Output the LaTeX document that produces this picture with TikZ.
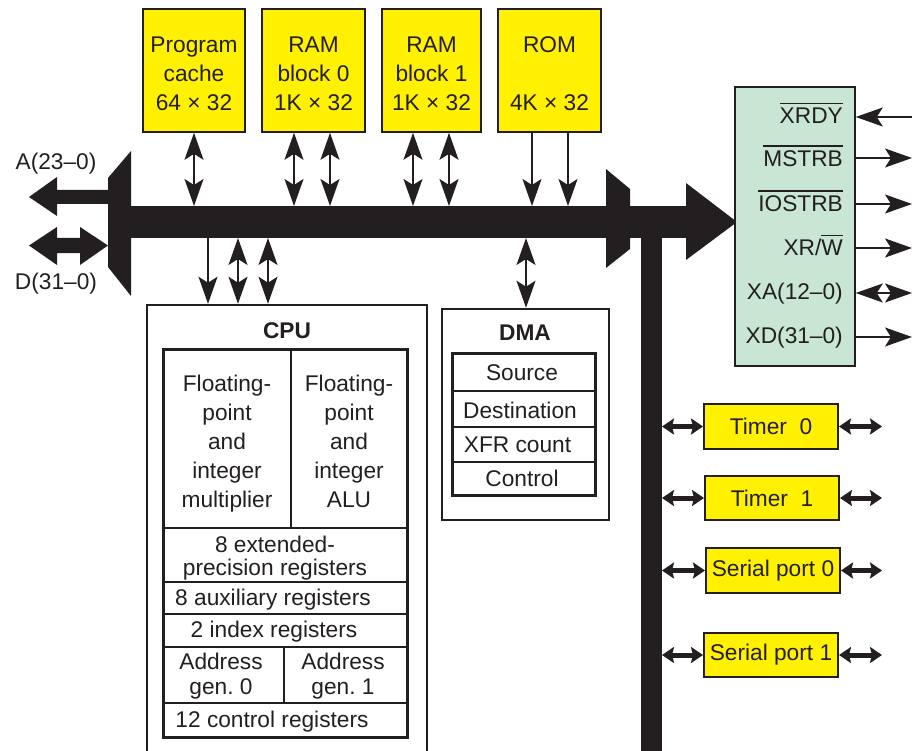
\documentclass[tikz,border=0pt]{standalone}
\usepackage{fontspec}
\setmainfont{Liberation Sans}
\usetikzlibrary{arrows.meta}
\definecolor{ink}{HTML}{231F20}
\definecolor{yel}{HTML}{FFF100}
\definecolor{mint}{HTML}{C8E6D3}
\newcommand{\ovbar}[1]{\leavevmode\vbox{\hrule height 1.6pt\kern 3.5pt\hbox{#1}}}
\frenchspacing
\begin{document}
\begin{tikzpicture}[x=1pt,y=-1pt,
  every node/.style={font=\fontsize{22.7}{29}\selectfont, text=ink, inner sep=0pt},
  ybox/.style={draw=ink, line width=1.6pt, fill=yel, align=center},
  pbox/.style={draw=ink, line width=2pt, fill=yel, align=center},
  bigtip/.tip={Stealth[length=27pt,width=19pt,inset=6pt]},
  ptip/.tip={Stealth[length=12pt,width=16pt,inset=2pt]},
  sig/.style={draw=ink, line width=1.5pt},
  per/.style={draw=ink, line width=5pt, ptip-ptip},
  thin/.style={draw=ink, line width=1.5pt},
  boldlbl/.style={font=\fontsize{22.7}{29}\selectfont\bfseries},
  busfill/.style={fill=ink, draw=none}]
\useasboundingbox (0,0) rectangle (912,751);

% ---------------- bus structure ----------------
\fill[busfill] (108,178) -- (131,151) -- (131,296) -- (108,267) -- cycle;
\fill[busfill] (131,206) rectangle (606,238);
\fill[busfill] (606,169) -- (630,189) -- (630,249) -- (606,268) -- cycle;
\fill[busfill] (630,206) rectangle (686,238);
\fill[busfill] (686,183) -- (737,222) -- (686,260) -- cycle;
\fill[busfill] (641,238) rectangle (662,751);
\coordinate (busT) at (0,206);
\coordinate (busB) at (0,238);
\coordinate (vb) at (662,0);

% A and D arrows
\fill[busfill] (108,190) -- (57,190) -- (57,177) -- (29,197) -- (57,216) -- (57,204) -- (108,204) -- cycle;
\fill[busfill] (57,238) -- (57,227) -- (29,245.5) -- (57,265) -- (57,253) -- (80,253) -- (80,265) -- (108,245.5) -- (80,227) -- (80,238) -- cycle;
\node (alab) at (56,164) {A(23–0)};
\node (dlab) at (56,284) {D(31–0)};

% ---------------- memory blocks ----------------
\node[ybox, minimum width=102pt, minimum height=123pt] (pc) at (194,70.5) {};
\node[ybox, minimum width=103pt, minimum height=123pt] (ram0) at (313.5,70.5) {};
\node[ybox, minimum width=99pt, minimum height=123pt] (ram1) at (431.5,70.5) {};
\node[ybox, minimum width=103pt, minimum height=123pt] (rom) at (549.5,70.5) {};
\node[align=center] (pct) at ([yshift=-3pt]pc.center) {Program\\cache\\64 × 32};
\node[align=center] (r0t) at ([yshift=-3pt]ram0.center) {RAM\\block 0\\1K × 32};
\node[align=center] (r1t) at ([yshift=-3pt]ram1.center) {RAM\\block 1\\1K × 32};
\node[align=center] (romt) at ([yshift=-3pt]rom.center) {ROM\\[29pt]4K × 32};

\draw[sig, bigtip-bigtip] (pc.south) -- (pc.south |- busT);
\draw[sig, bigtip-bigtip] ([xshift=-19.5pt]ram0.south) -- ([xshift=-19.5pt]ram0.south |- busT);
\draw[sig, bigtip-bigtip] ([xshift=16.5pt]ram0.south) -- ([xshift=16.5pt]ram0.south |- busT);
\draw[sig, bigtip-bigtip] ([xshift=-18.5pt]ram1.south) -- ([xshift=-18.5pt]ram1.south |- busT);
\draw[sig, bigtip-bigtip] ([xshift=17.5pt]ram1.south) -- ([xshift=17.5pt]ram1.south |- busT);
\draw[sig, -bigtip] ([xshift=-17.5pt]rom.south) -- ([xshift=-17.5pt]rom.south |- busT);
\draw[sig, -bigtip] ([xshift=18.5pt]rom.south) -- ([xshift=18.5pt]rom.south |- busT);

% ---------------- external interface panel ----------------
\node[draw=ink, line width=1.5pt, fill=mint, minimum width=120pt, minimum height=279pt] (xp) at (795,226.5) {};
\node[anchor=east] (s1) at (843,113) {\ovbar{XRDY}};
\node[anchor=east] (s2) at (843,156) {\ovbar{MSTRB}};
\node[anchor=east] (s3) at (843,201) {\ovbar{IOSTRB}};
\node[anchor=east] (s4) at (843,245) {XR/\ovbar{W}};
\node[anchor=east] (s5) at (843,294) {XA(12–0)};
\node[anchor=east] (s6) at (843,338) {XD(31–0)};
\draw[sig, -bigtip] (912,117) -- (xp.east |- 0,117);
\draw[sig, -bigtip] (xp.east |- 0,158) -- (912,158);
\draw[sig, -bigtip] (xp.east |- 0,204) -- (912,204);
\draw[sig, -bigtip] (xp.east |- 0,248) -- (912,248);
\draw[sig, bigtip-bigtip] (xp.east |- 0,293) -- (912,293);
\draw[sig, -bigtip] (xp.east |- 0,337) -- (912,337);

% ---------------- peripherals ----------------
\node[pbox, minimum width=134pt, minimum height=45pt] (t0) at (771,426.5) {Timer\ \ 0};
\node[pbox, minimum width=134pt, minimum height=44pt] (t1) at (772,498) {Timer\ \ 1};
\node[pbox, minimum width=134pt, minimum height=45pt] (sp0) at (773,570.5) {Serial port 0};
\node[pbox, minimum width=134pt, minimum height=44pt] (sp1) at (771,655) {Serial port 1};
\foreach \p in {t0,t1,sp0,sp1}{
  \draw[per] (vb |- \p.west) -- (\p.west);
  \draw[per] (\p.east) -- (882,0 |- \p.east);
}

% ---------------- CPU ----------------
\node[draw=ink, line width=2.5pt, minimum width=280pt, minimum height=450pt] (cpu) at (287,530) {};
\node[boldlbl] (cpulbl) at (287,331) {CPU};
\draw[sig, -bigtip] (208,0 |- busB) -- (208,0 |- cpu.north);
\draw[sig, bigtip-bigtip] (238,0 |- busB) -- (238,0 |- cpu.north);
\draw[sig, bigtip-bigtip] (268,0 |- busB) -- (268,0 |- cpu.north);

\draw[draw=ink, line width=3pt] (163,349) rectangle (407,737);
\draw[thin] (291,349) -- (291,528);
\draw[thin] (163,528) -- (407,528);
\draw[thin] (163,582) -- (407,582);
\draw[thin] (163,614) -- (407,614);
\draw[thin] (163,647) -- (407,647);
\draw[thin] (284,647) -- (284,703);
\draw[thin] (163,703) -- (407,703);

\node[align=center, anchor=north] (mul) at (227,374.4) {Floating-\\point\\and\\integer\\multiplier};
\node[align=center, anchor=north] (alu) at (349,374.4) {Floating-\\point\\and\\integer\\ALU};
\node[align=center, font=\fontsize{22.7}{23}\selectfont] (ext) at (275,558) {8 extended-\\precision registers};
\node (aux) at (273,599.5) {8 auxiliary registers};
\node (idx) at (274,631.5) {2 index registers};
\node[align=center, font=\fontsize{22.7}{25}\selectfont] (ag0) at (221,676.5) {Address\\gen. 0};
\node[align=center, font=\fontsize{22.7}{25}\selectfont] (ag1) at (343,676.5) {Address\\gen. 1};
\node (ctl) at (272,721.5) {12 control registers};

% ---------------- DMA ----------------
\node[draw=ink, line width=2.5pt, minimum width=167pt, minimum height=211pt] (dma) at (525.5,414.5) {};
\node[boldlbl] (dmalbl) at (525,333) {DMA};
\draw[sig, bigtip-bigtip] (526,0 |- busB) -- (526,0 |- dma.north);
\draw[draw=ink, line width=3pt] (452,353) rectangle (595,495);
\draw[thin] (452,391) -- (595,391);
\draw[thin] (452,427) -- (595,427);
\draw[thin] (452,462) -- (595,462);
\node (src) at (522,373) {Source};
\node (dst) at (520,410) {Destination};
\node (xfr) at (517.5,445) {XFR count};
\node (ctr) at (522,478) {Control};
\end{tikzpicture}
\end{document}
